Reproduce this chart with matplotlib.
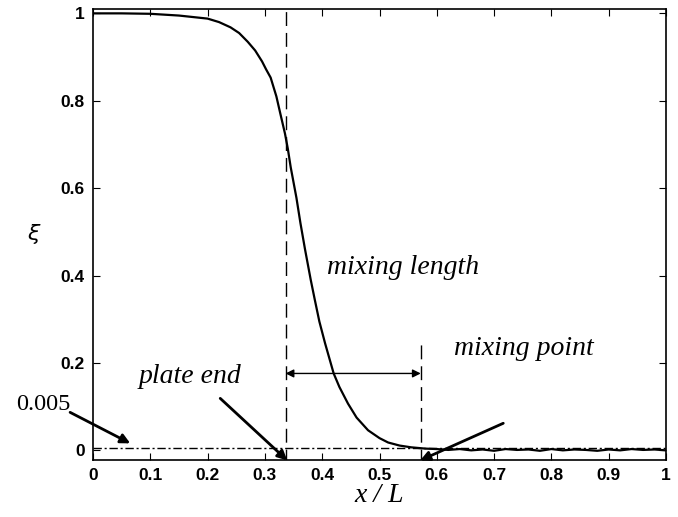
import matplotlib.pyplot as plt

# mixture fraction along the plate
x_curve = [0.0, 0.05, 0.10, 0.15, 0.20, 0.22, 0.24, 0.255, 0.27, 0.283, 0.295,
           0.302, 0.31, 0.32, 0.327, 0.335, 0.34, 0.345, 0.35, 0.355, 0.362,
           0.37, 0.38, 0.387, 0.395, 0.405, 0.42, 0.43, 0.445, 0.46, 0.48,
           0.50, 0.515, 0.535, 0.555, 0.58,
           0.60, 0.62, 0.64, 0.66, 0.68, 0.70, 0.72, 0.74, 0.76, 0.78, 0.80,
           0.82, 0.84, 0.86, 0.88, 0.90, 0.92, 0.94, 0.96, 0.98, 1.00]
xi_curve = [1.0, 1.0, 0.999, 0.995, 0.988, 0.98, 0.968, 0.955, 0.935, 0.915, 0.89,
            0.872, 0.853, 0.81, 0.77, 0.725, 0.69, 0.648, 0.613, 0.578, 0.52,
            0.46, 0.39, 0.345, 0.295, 0.245, 0.176, 0.145, 0.107, 0.075, 0.046,
            0.028, 0.018, 0.011, 0.007, 0.004,
            0.003, 0.001, 0.003, 0.0, 0.002, -0.001, 0.003, 0.001, 0.002, -0.001, 0.003,
            0.0, 0.002, 0.001, -0.001, 0.002, 0.0, 0.003, 0.001, 0.002, 0.0]

threshold = 0.005
plate_end = 0.336
mixing_point = 0.572

xticks = [0, 0.1, 0.2, 0.3, 0.4, 0.5, 0.6, 0.7, 0.8, 0.9, 1]
yticks = [0, 0.2, 0.4, 0.6, 0.8, 1]

fig = plt.figure(figsize=(6.78, 5.17), dpi=100)
ax = fig.add_axes([0.1372, 0.1103, 0.8451, 0.8723])

ax.plot(x_curve, xi_curve, color='black', lw=1.6)
ax.axhline(threshold, color='black', lw=1, ls=(0, (6, 2, 1.5, 2)))
ax.plot([plate_end, plate_end], [-0.03, 1.02], color='black', lw=1, ls=(0, (10, 5)))
ax.plot([mixing_point, mixing_point], [-0.03, 0.245], color='black', lw=1, ls=(0, (10, 5)))

ax.set_xlim(0, 1)
ax.set_ylim(-0.022, 1.01)
ax.set_xticks(xticks)
ax.set_xticklabels(['0', '0.1', '0.2', '0.3', '0.4', '0.5', '0.6', '0.7', '0.8', '0.9', '1'])
ax.set_yticks(yticks)
ax.set_yticklabels(['0', '0.2', '0.4', '0.6', '0.8', '1'])
ax.tick_params(direction='in', top=True, right=True, length=5, width=0.8,
               labelsize=12.5, pad=6)
for lab in ax.get_xticklabels() + ax.get_yticklabels():
    lab.set_fontfamily('Liberation Sans')
    lab.set_fontweight('bold')
for s in ax.spines.values():
    s.set_linewidth(1.2)

serif = 'Liberation Serif'
ax.set_xlabel('x / L', fontfamily=serif, fontstyle='italic', fontsize=20, labelpad=0)
ax.text(-0.103, 0.5, r'$\xi$', transform=ax.transAxes, fontsize=16,
        ha='center', va='center')

arrow = dict(arrowstyle='-|>', color='black', lw=2, mutation_scale=14, shrinkA=0, shrinkB=0)
ax.annotate('', xy=(0.065, 0.016), xytext=(-0.04, 0.087), arrowprops=arrow,
            annotation_clip=False)
ax.text(-0.087, 0.106, '0.005', fontfamily=serif, fontsize=17.5, ha='center', va='center',
        clip_on=False)

ax.annotate('', xy=(0.339, -0.023), xytext=(0.222, 0.119), arrowprops=arrow,
            annotation_clip=False)
ax.text(0.169, 0.168, 'plate end', fontfamily=serif, fontstyle='italic', fontsize=20,
        ha='center', va='center')

ax.annotate('', xy=(0.571, -0.023), xytext=(0.716, 0.062), arrowprops=arrow,
            annotation_clip=False)
ax.text(0.752, 0.232, 'mixing point', fontfamily=serif, fontstyle='italic', fontsize=20,
        ha='center', va='center')

ax.annotate('', xy=(mixing_point, 0.176), xytext=(plate_end, 0.176),
            arrowprops=dict(arrowstyle='<|-|>', color='black', lw=1, mutation_scale=12,
                            shrinkA=0, shrinkB=0))
ax.text(0.541, 0.418, 'mixing length', fontfamily=serif, fontstyle='italic', fontsize=20,
        ha='center', va='center')

fig.savefig('out.png', dpi=100)
